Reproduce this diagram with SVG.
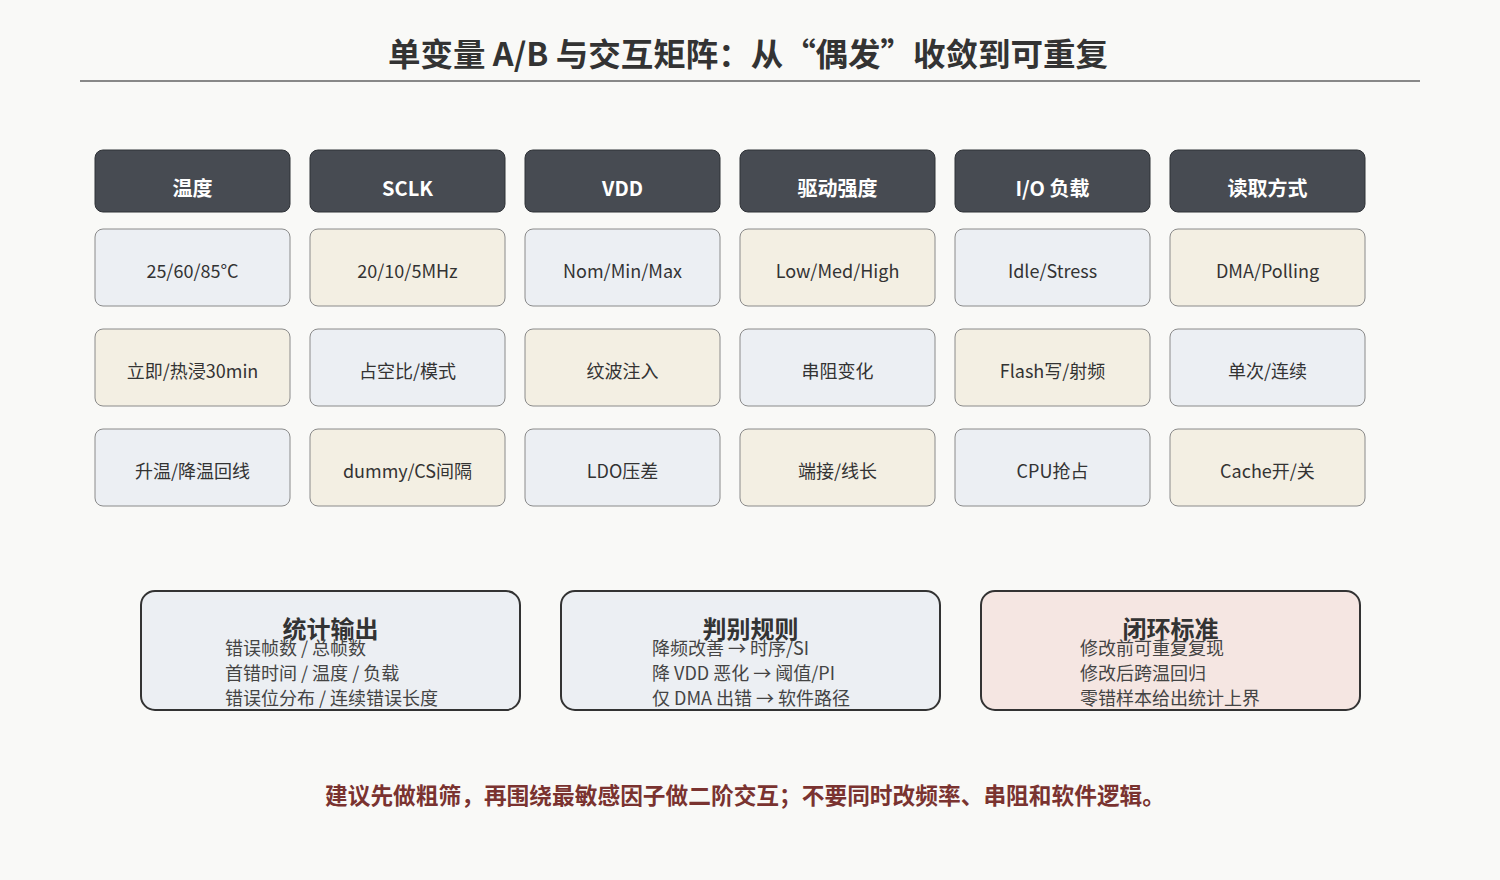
<svg xmlns="http://www.w3.org/2000/svg" width="1500" height="880" viewBox="0 0 1500 880">
<style>
  text { font-family: "Noto Sans CJK SC", "Noto Sans", sans-serif; }
  .title { font-size: 32px; font-weight: 700; fill: #333333; text-anchor: middle; }
  .hdr rect { fill: #474b52; stroke: #2f3237; stroke-width: 1; }
  .hdr text { font-size: 20px; font-weight: 700; fill: #ffffff; text-anchor: middle; }
  .cell rect { stroke: #8a8a8a; stroke-width: 1; }
  .cell text { font-size: 18px; fill: #333333; text-anchor: middle; }
  .blue { fill: #eceff3; }
  .cream { fill: #f3efe3; }
  .pink { fill: #f5e6e2; }
  .box rect { stroke: #333333; stroke-width: 2; }
  .box .bt { font-size: 24px; font-weight: 700; fill: #333333; text-anchor: middle; }
  .box .bl { font-size: 18px; fill: #444444; }
  .foot { font-size: 23px; font-weight: 700; fill: #7a3330; text-anchor: middle; }
</style>
<rect x="0" y="0" width="1500" height="880" fill="#f9f9f7"/>
<text class="title" x="748" y="66" textLength="720" lengthAdjust="spacingAndGlyphs">单变量 A/B 与交互矩阵：从“偶发”收敛到可重复</text>
<line x1="80" y1="81" x2="1420" y2="81" stroke="#888888" stroke-width="2"/>

<g id="h-temp" class="hdr"><rect x="95" y="150" width="195" height="62" rx="8"/><text x="192.5" y="196">温度</text></g>
<g id="h-sclk" class="hdr"><rect x="310" y="150" width="195" height="62" rx="8"/><text x="407.5" y="196">SCLK</text></g>
<g id="h-vdd" class="hdr"><rect x="525" y="150" width="195" height="62" rx="8"/><text x="622.5" y="196">VDD</text></g>
<g id="h-drive" class="hdr"><rect x="740" y="150" width="195" height="62" rx="8"/><text x="837.5" y="196">驱动强度</text></g>
<g id="h-io" class="hdr"><rect x="955" y="150" width="195" height="62" rx="8"/><text x="1052.5" y="196">I/O 负载</text></g>
<g id="h-read" class="hdr"><rect x="1170" y="150" width="195" height="62" rx="8"/><text x="1267.5" y="196">读取方式</text></g>

<g id="c-1-1" class="cell"><rect class="blue" x="95" y="229" width="195" height="77" rx="8"/><text x="192.5" y="278">25/60/85°C</text></g>
<g id="c-1-2" class="cell"><rect class="cream" x="310" y="229" width="195" height="77" rx="8"/><text x="407.5" y="278">20/10/5MHz</text></g>
<g id="c-1-3" class="cell"><rect class="blue" x="525" y="229" width="195" height="77" rx="8"/><text x="622.5" y="278">Nom/Min/Max</text></g>
<g id="c-1-4" class="cell"><rect class="cream" x="740" y="229" width="195" height="77" rx="8"/><text x="837.5" y="278">Low/Med/High</text></g>
<g id="c-1-5" class="cell"><rect class="blue" x="955" y="229" width="195" height="77" rx="8"/><text x="1052.5" y="278">Idle/Stress</text></g>
<g id="c-1-6" class="cell"><rect class="cream" x="1170" y="229" width="195" height="77" rx="8"/><text x="1267.5" y="278">DMA/Polling</text></g>

<g id="c-2-1" class="cell"><rect class="cream" x="95" y="329" width="195" height="77" rx="8"/><text x="192.5" y="378">立即/热浸30min</text></g>
<g id="c-2-2" class="cell"><rect class="blue" x="310" y="329" width="195" height="77" rx="8"/><text x="407.5" y="378">占空比/模式</text></g>
<g id="c-2-3" class="cell"><rect class="cream" x="525" y="329" width="195" height="77" rx="8"/><text x="622.5" y="378">纹波注入</text></g>
<g id="c-2-4" class="cell"><rect class="blue" x="740" y="329" width="195" height="77" rx="8"/><text x="837.5" y="378">串阻变化</text></g>
<g id="c-2-5" class="cell"><rect class="cream" x="955" y="329" width="195" height="77" rx="8"/><text x="1052.5" y="378">Flash写/射频</text></g>
<g id="c-2-6" class="cell"><rect class="blue" x="1170" y="329" width="195" height="77" rx="8"/><text x="1267.5" y="378">单次/连续</text></g>

<g id="c-3-1" class="cell"><rect class="blue" x="95" y="429" width="195" height="77" rx="8"/><text x="192.5" y="478">升温/降温回线</text></g>
<g id="c-3-2" class="cell"><rect class="cream" x="310" y="429" width="195" height="77" rx="8"/><text x="407.5" y="478">dummy/CS间隔</text></g>
<g id="c-3-3" class="cell"><rect class="blue" x="525" y="429" width="195" height="77" rx="8"/><text x="622.5" y="478">LDO压差</text></g>
<g id="c-3-4" class="cell"><rect class="cream" x="740" y="429" width="195" height="77" rx="8"/><text x="837.5" y="478">端接/线长</text></g>
<g id="c-3-5" class="cell"><rect class="blue" x="955" y="429" width="195" height="77" rx="8"/><text x="1052.5" y="478">CPU抢占</text></g>
<g id="c-3-6" class="cell"><rect class="cream" x="1170" y="429" width="195" height="77" rx="8"/><text x="1267.5" y="478">Cache开/关</text></g>

<g id="b-stats" class="box"><rect class="blue" x="141" y="591" width="379" height="119" rx="14"/>
  <text class="bt" x="330.5" y="638">统计输出</text>
  <text class="bl" x="225" y="655">错误帧数 / 总帧数</text>
  <text class="bl" x="225" y="680">首错时间 / 温度 / 负载</text>
  <text class="bl" x="225" y="705">错误位分布 / 连续错误长度</text>
</g>
<g id="b-rules" class="box"><rect class="blue" x="561" y="591" width="379" height="119" rx="14"/>
  <text class="bt" x="750.5" y="638">判别规则</text>
  <text class="bl" x="652" y="655">降频改善 → 时序/SI</text>
  <text class="bl" x="652" y="680">降 VDD 恶化 → 阈值/PI</text>
  <text class="bl" x="652" y="705">仅 DMA 出错 → 软件路径</text>
</g>
<g id="b-close" class="box"><rect class="pink" x="981" y="591" width="379" height="119" rx="14"/>
  <text class="bt" x="1170.5" y="638">闭环标准</text>
  <text class="bl" x="1080" y="655">修改前可重复复现</text>
  <text class="bl" x="1080" y="680">修改后跨温回归</text>
  <text class="bl" x="1080" y="705">零错样本给出统计上界</text>
</g>

<text class="foot" x="745" y="804" textLength="840" lengthAdjust="spacingAndGlyphs">建议先做粗筛，再围绕最敏感因子做二阶交互；不要同时改频率、串阻和软件逻辑。</text>
</svg>
